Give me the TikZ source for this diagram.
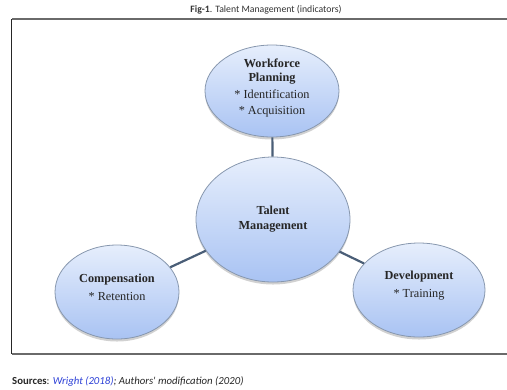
\documentclass[tikz,border=0pt]{standalone}
\usepackage{fontspec}
\setmainfont{Liberation Serif}
\newfontfamily\calib{Carlito}
\usetikzlibrary{shapes.geometric,shadows}
\definecolor{ellborder}{HTML}{8797AE}
\definecolor{elltop}{HTML}{E6EEFC}
\definecolor{ellbot}{HTML}{A9C3F3}
\definecolor{linkcol}{HTML}{4A5E77}
\definecolor{framegray}{HTML}{6A6A6A}
\definecolor{srcblue}{HTML}{2B3FD6}
\tikzset{
  ellbox/.style={ellipse, draw=ellborder, line width=0.8bp, top color=elltop, bottom color=ellbot,
     inner sep=0pt, drop shadow={shadow xshift=0bp, shadow yshift=-2.5bp, opacity=0.3, fill=black!60}},
  lbl/.style={align=center, font=\fontsize{12.3}{16}\selectfont, text=black!85},
  link/.style={draw=linkcol, line width=2.2bp},
}
\begin{document}
\begin{tikzpicture}[x=1bp,y=-1bp]
\useasboundingbox (0,0) rectangle (507,389);
% frame
\draw[framegray, line width=1.6bp] (508,19) -- (11.5,19);
\draw[framegray, line width=1.6bp] (11.5,354) -- (508,354);
\draw[black!85, line width=1.2bp] (11.5,19) -- (11.5,354);
% title
\node[font=\calib\fontsize{9.8}{11}\selectfont, text=black!80] (title) at (266,10) {\textbf{Fig-1}. Talent Management (indicators)};
% ellipses
\node[ellbox, minimum width=134bp, minimum height=92bp] (top) at (272,91) {};
\node[ellbox, minimum width=154bp, minimum height=125bp] (center) at (273,219.5) {};
\node[ellbox, minimum width=124bp, minimum height=94bp] (left) at (117,292) {};
\node[ellbox, minimum width=132bp, minimum height=94bp] (right) at (419,290) {};
% connectors
\draw[link] (top) -- (center);
\draw[link] (center) -- (left);
\draw[link] (center) -- (right);
% texts
\node[lbl] (toptext) at (top.center) [yshift=3bp] {\textbf{Workforce}\\[-1.5pt]\textbf{Planning}\\[0.5pt]* Identification\\[0.5pt]* Acquisition};
\node[lbl] (centertext) at (center.center) {\textbf{Talent}\\[-1pt]\textbf{Management}};
\node[lbl] (lefttext) at (left.center) [yshift=5bp] {\textbf{Compensation}\\[2pt]* Retention};
\node[lbl] (righttext) at (right.center) [yshift=4bp] {\textbf{Development}\\[2pt]* Training};
% sources
\node[anchor=west, font=\calib\fontsize{10.8}{12}\selectfont, text=black!85, inner sep=0pt] (src) at (12,381)
  {\textbf{Sources}: \textit{\textcolor{srcblue}{Wright (2018)}; Authors' modification (2020)}};
\end{tikzpicture}
\end{document}
